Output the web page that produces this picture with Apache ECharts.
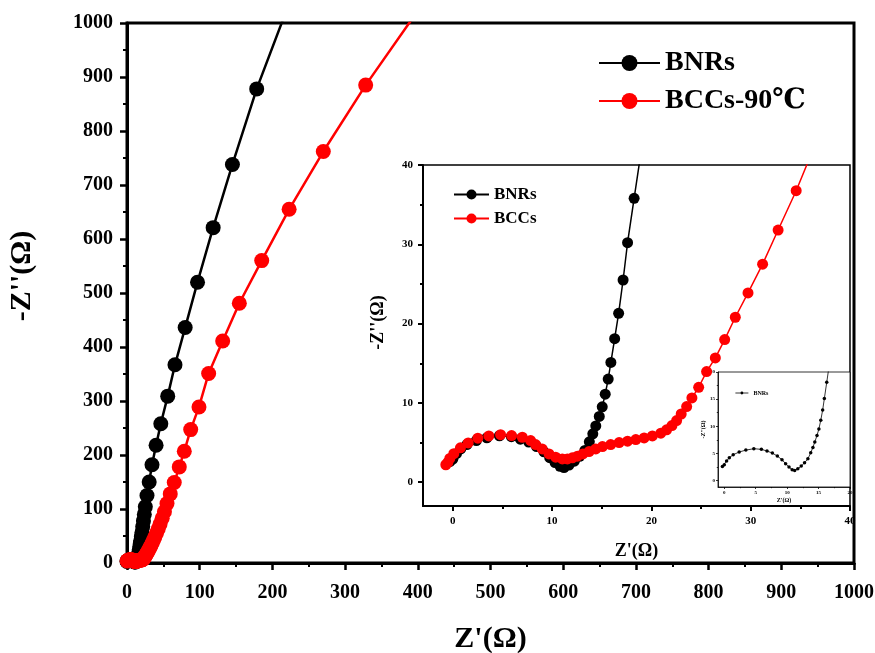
<!DOCTYPE html>
<html>
<head>
<meta charset="utf-8">
<title>Nyquist plot BNRs / BCCs</title>
<script src="https://cdn.jsdelivr.net/npm/echarts@6/dist/echarts.min.js"></script>
<style>
  html, body { margin: 0; padding: 0; background: #fff; }
  #chart { width: 875px; height: 653px; }
</style>
</head>
<body>
<div id="chart"></div>
<script>
// Z' (ohm), -Z'' (ohm)
var bnrs = [
  [-0.3, 2.6], [0, 2.9], [0.37, 3.6], [0.8, 4.2], [1.42, 4.75], [2.37, 5.25], [3.43, 5.6],
  [4.7, 5.86], [5.9, 5.74], [6.8, 5.43], [7.65, 5.06], [8.44, 4.5], [9.18, 3.83], [9.76, 3.09],
  [10.3, 2.47], [10.8, 2.0], [11.2, 1.85], [11.7, 2.16], [12.24, 2.65], [12.77, 3.27], [13.3, 4.0],
  [13.75, 5.1], [14.1, 6.1], [14.4, 7.1], [14.75, 8.3], [15.05, 9.5], [15.35, 11.1], [15.65, 13.0],
  [15.92, 15.1], [16.3, 18.1], [16.7, 21.3], [17.15, 25.5], [17.6, 30.2], [18.26, 35.8],
  [19.0, 42], [19.8, 49], [20.6, 57], [21.6, 67], [22.6, 78], [23.8, 90], [25.2, 104],
  [27.5, 125], [30.5, 150], [34.4, 182], [40, 218], [46.5, 258], [56, 309], [66, 367],
  [80, 436], [97, 520], [118.5, 621], [145, 738], [178.4, 878], [224, 1040]
];
var bccs = [
  [-0.7, 2.2], [-0.5, 2.5], [-0.3, 3.0], [0.1, 3.6], [0.77, 4.33], [1.55, 4.96], [2.52, 5.55],
  [3.63, 5.84], [4.81, 6.0], [5.92, 5.88], [7.0, 5.67], [7.84, 5.25], [8.34, 4.75], [9.0, 4.2],
  [9.69, 3.57], [10.36, 3.15], [11.03, 2.94], [11.54, 2.94], [12.04, 3.07], [12.55, 3.28],
  [13.1, 3.57], [13.72, 3.87], [14.4, 4.2], [15.07, 4.5], [15.9, 4.75], [16.75, 5.0], [17.6, 5.17],
  [18.43, 5.38], [19.27, 5.59], [20.1, 5.84], [20.95, 6.18], [21.53, 6.6], [22.07, 7.14],
  [22.54, 7.77], [23.0, 8.6], [23.55, 9.54], [24.08, 10.63], [24.76, 11.97], [25.56, 13.95],
  [26.44, 15.67], [27.38, 17.98], [28.45, 20.8], [29.73, 23.87], [31.2, 27.5], [32.76, 31.8],
  [34.58, 36.76], [36.3, 42], [38.3, 48], [40.5, 55], [42.9, 63], [45.5, 72], [48.4, 83],
  [51.5, 95], [55, 110], [59.5, 128], [65, 149], [71.9, 178], [78.8, 207], [87.6, 247],
  [99, 289], [112.3, 351], [131.6, 411], [154.5, 481], [185.3, 560], [223, 655], [270, 762],
  [328.3, 885], [396, 1015]
];

var insetMajor = [0, 10, 20, 30, 40];
var insetMinor = [5, 15, 25, 35];
var nestMajor = [0, 5, 10, 15, 20];
var nestMinor = [2.5, 7.5, 12.5, 17.5];

var SERIF = '"Times New Roman", "Liberation Serif", "DejaVu Serif", serif';

function labelStyle(size, margin) {
  return { fontFamily: SERIF, fontWeight: 'bold', fontSize: size, color: '#000', margin: margin,
    formatter: function (v) { return String(v); } };
}
function nameStyle(size, pad) {
  var s = { fontFamily: SERIF, fontWeight: 'bold', fontSize: size, color: '#000' };
  if (pad) s.padding = pad;
  return s;
}

// major axis with custom ticks + labels
function majorAxis(grid, pos, min, max, ticks, lw, tlen, fs, margin, name, gap, rot, pad) {
  return {
    type: 'value', gridIndex: grid, position: pos, min: min, max: max,
    name: name, nameLocation: 'middle', nameGap: gap, nameRotate: rot,
    nameTextStyle: nameStyle(fs.name, pad),
    axisLine: { show: true, onZero: false, lineStyle: { color: '#000', width: lw } },
    axisTick: { show: true, customValues: ticks, length: tlen, lineStyle: { color: '#000', width: lw } },
    axisLabel: Object.assign({ customValues: ticks }, labelStyle(fs.label, margin)),
    splitLine: { show: false }
  };
}
// minor ticks only
function minorAxis(grid, pos, min, max, ticks, lw, tlen) {
  return {
    type: 'value', gridIndex: grid, position: pos, min: min, max: max,
    axisLine: { show: false, onZero: false },
    axisTick: { show: true, customValues: ticks, length: tlen, lineStyle: { color: '#000', width: lw } },
    axisLabel: { show: false },
    splitLine: { show: false }
  };
}

var chart = echarts.init(document.getElementById('chart'));

var option = {
  backgroundColor: '#fff',
  animation: false,
  grid: [
    { left: 127, right: 21, top: 23, bottom: 90, outerBoundsMode: 'none', show: true, borderColor: '#000', borderWidth: 3 },
    { left: 423, right: 25, top: 165, bottom: 147, outerBoundsMode: 'none', show: true, borderColor: '#000', borderWidth: 1.5, backgroundColor: '#fff' },
    { left: 718, right: 25, top: 372, bottom: 166, outerBoundsMode: 'none', show: true, borderColor: '#000', borderWidth: 0.8, backgroundColor: '#fff' }
  ],
  legend: [
    {
      data: ['BNRs', 'BCCs-90℃'], orient: 'vertical', left: 598, top: 49, padding: 0,
      itemWidth: 61, itemHeight: 20, itemGap: 10,
      textStyle: nameStyle(28)
    },
    {
      data: ['BNRs', 'BCCs'], orient: 'vertical', left: 453, top: 186, padding: 0,
      itemWidth: 35, itemHeight: 12.5, itemGap: 7,
      lineStyle: { width: 2 },
      textStyle: nameStyle(17)
    },
    {
      data: ['BNRs'], orient: 'vertical', left: 735, top: 390, padding: 0,
      itemWidth: 13, itemHeight: 3.5, itemGap: 0,
      lineStyle: { width: 0.8 },
      textStyle: nameStyle(6)
    }
  ],
  xAxis: [
    {
      type: 'value', gridIndex: 0, position: 'bottom', min: 0, max: 1000, interval: 100,
      name: "Z'(Ω)", nameLocation: 'middle', nameGap: 61, nameTextStyle: nameStyle(30),
      axisLine: { lineStyle: { color: '#000', width: 3 } },
      axisTick: { length: 7, lineStyle: { color: '#000', width: 2.5 } },
      minorTick: { show: true, splitNumber: 2, length: 4, lineStyle: { color: '#000', width: 2 } },
      axisLabel: labelStyle(20, 20),
      splitLine: { show: false }
    },
    majorAxis(1, 'bottom', -3, 40, insetMajor, 2, 5, { label: 11, name: 18 }, 10, "Z'(Ω)", 36, 0),
    minorAxis(1, 'bottom', -3, 40, insetMinor, 2, 3),
    majorAxis(2, 'bottom', -1, 20, nestMajor, 0.8, 2, { label: 5, name: 6 }, 3, "Z'(Ω)", 10, 0),
    minorAxis(2, 'bottom', -1, 20, nestMinor, 0.8, 1.2)
  ],
  yAxis: [
    {
      type: 'value', gridIndex: 0, position: 'left', min: 0, max: 1000, interval: 100,
      name: "-Z''(Ω)", nameLocation: 'middle', nameGap: 90, nameRotate: 90,
      nameTextStyle: nameStyle(30, [0, 0, 0, 34]),
      axisLine: { lineStyle: { color: '#000', width: 3 } },
      axisTick: { length: 7, lineStyle: { color: '#000', width: 2.5 } },
      minorTick: { show: true, splitNumber: 2, length: 4, lineStyle: { color: '#000', width: 2 } },
      axisLabel: labelStyle(20, 14),
      splitLine: { show: false }
    },
    majorAxis(1, 'left', -3, 40, insetMajor, 2, 5, { label: 11, name: 18 }, 10, "-Z''(Ω)", 36, 90, [0, 0, 0, 26]),
    minorAxis(1, 'left', -3, 40, insetMinor, 2, 3),
    majorAxis(2, 'left', -1.2, 20, nestMajor, 0.8, 2, { label: 5, name: 6 }, 3, "-Z''(Ω)", 12, 90),
    minorAxis(2, 'left', -1.2, 20, nestMinor, 0.8, 1.2)
  ],
  series: [
    {
      name: 'BNRs', type: 'line', xAxisIndex: 0, yAxisIndex: 0, data: bnrs,
      symbol: 'circle', symbolSize: 15, clip: true,
      lineStyle: { color: '#000', width: 2.5 }, itemStyle: { color: '#000' }
    },
    {
      name: 'BCCs-90℃', type: 'line', xAxisIndex: 0, yAxisIndex: 0, data: bccs,
      symbol: 'circle', symbolSize: 15, clip: true,
      lineStyle: { color: '#ff0000', width: 2.5 }, itemStyle: { color: '#ff0000' }
    },
    {
      name: 'BNRs', type: 'line', xAxisIndex: 1, yAxisIndex: 1, data: bnrs,
      symbol: 'circle', symbolSize: 11, clip: true,
      lineStyle: { color: '#000', width: 1.5 }, itemStyle: { color: '#000' }
    },
    {
      name: 'BCCs', type: 'line', xAxisIndex: 1, yAxisIndex: 1, data: bccs,
      symbol: 'circle', symbolSize: 11, clip: true,
      lineStyle: { color: '#ff0000', width: 1.5 }, itemStyle: { color: '#ff0000' }
    },
    {
      name: 'BNRs', type: 'line', xAxisIndex: 3, yAxisIndex: 3, data: bnrs,
      symbol: 'circle', symbolSize: 3.5, clip: true, z: 5,
      lineStyle: { color: '#000', width: 0.8 }, itemStyle: { color: '#000' }
    }
  ]
};

chart.setOption(option);
</script>
</body>
</html>
